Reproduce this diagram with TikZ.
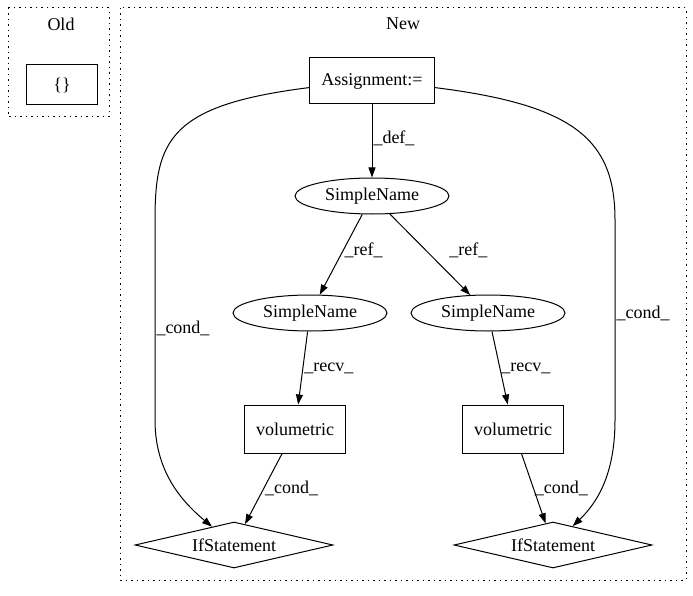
\documentclass[tikz,border=0pt]{standalone}
\usepackage{fontspec}
\setmainfont{Liberation Serif}
\usetikzlibrary{arrows.meta,shapes.geometric}
\tikzset{
	txt/.style={font=\fontsize{18bp}{21bp}\selectfont},
	lbl/.style={txt, inner sep=1bp},
	stmt/.style={txt, draw, rectangle, line width=1bp, inner sep=0pt},
	var/.style={txt, draw, ellipse, line width=1bp, inner sep=0pt, minimum width=154bp, minimum height=36bp},
	test/.style={txt, draw, diamond, aspect=4.3, line width=1bp, inner sep=0pt, minimum width=198bp, minimum height=46bp},
	cluster/.style={line width=1bp, dash pattern=on 1.5bp off 4bp},
	flow/.style={line width=1bp, -{Triangle[length=10bp,width=7bp]}}
}

\begin{document}
\begin{tikzpicture}[x=1bp, y=-1bp]
		%%%%% START %%%%%
		\useasboundingbox (0,0) rectangle (693,596);
		
		\draw[cluster] (8,8) rectangle (109,117);
		\node[lbl] (oldlbl) at (61,24) {Old};
		\node[stmt, minimum width=71bp, minimum height=40bp] (brace) at (62,85) {\{\}};
		
		\draw[cluster] (120,8) rectangle (686,580);
		\node[lbl] (newlbl) at (403,24) {New};
		
		\node[stmt, minimum width=125bp, minimum height=46bp] (asg) at (372,81) {Assignment:=};
		\node[var] (name) at (372,196) {SimpleName};
		\node[var] (nameL) at (310,313) {SimpleName};
		\node[var] (nameR) at (488,313) {SimpleName};
		\node[stmt, minimum width=101bp, minimum height=48bp] (volL) at (295,429) {volumetric};
		\node[stmt, minimum width=101bp, minimum height=48bp] (volR) at (513,429) {volumetric};
		\node[test] (ifL) at (234,545) {IfStatement};
		\node[test] (ifR) at (553,545) {IfStatement};
		
		\draw[flow] (asg) -- node[lbl, right, pos=0.46] {\_def\_} (name);
		\draw[flow] (name) -- node[lbl, right, pos=0.45] {\_ref\_} (nameL);
		\draw[flow] (name) -- node[lbl, right=22bp, pos=0.45] {\_ref\_} (nameR);
		\draw[flow] (nameL) -- node[lbl, right, pos=0.5] {\_recv\_} (volL);
		\draw[flow] (nameR) -- node[lbl, right, pos=0.5] {\_recv\_} (volR);
		\draw[flow] (volL) -- node[lbl, right, pos=0.5] {\_cond\_} (ifL);
		\draw[flow] (volR) -- node[lbl, right, pos=0.5] {\_cond\_} (ifR);
		
		\draw[flow] (asg.186) .. controls (170,105) and (155,140) .. (155,220)
			-- node[lbl, right, pos=0.54] {\_cond\_} (155,420)
			.. controls (155,470) and (180,500) .. (ifL);
		\draw[flow] (asg.354) .. controls (575,105) and (615,140) .. (615,220)
			-- node[lbl, right, pos=0.465] {\_cond\_} (615,420)
			.. controls (615,470) and (600,500) .. (ifR);
		
		%%%%% END %%%%%
\end{tikzpicture}
\end{document}
